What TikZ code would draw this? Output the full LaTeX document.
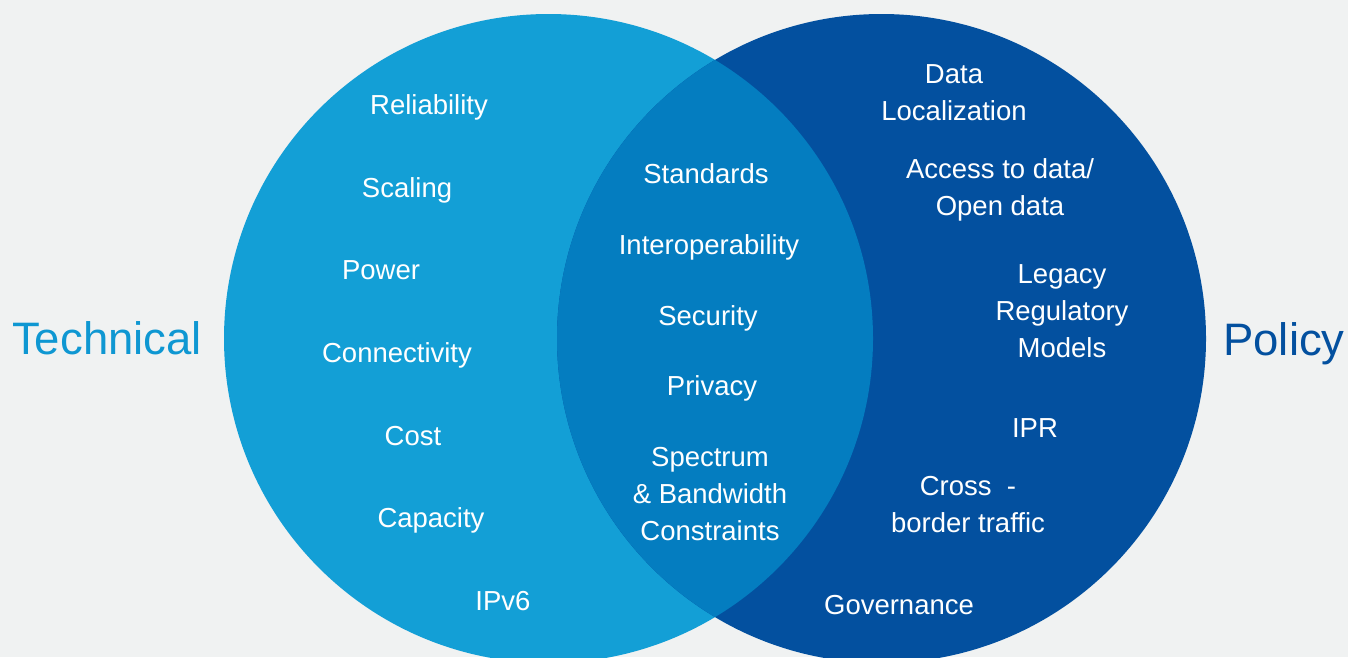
\documentclass[tikz,border=0pt]{standalone}
\usepackage{fontspec}
\setmainfont{Liberation Sans}
\definecolor{pagebg}{HTML}{F0F2F2}
\definecolor{techblue}{HTML}{139FD6}
\definecolor{midblue}{HTML}{047DC0}
\definecolor{polblue}{HTML}{03509F}
\definecolor{techtext}{HTML}{0E97D2}
\begin{document}
\begin{tikzpicture}[x=1pt,y=-1pt,
		lbl/.style={text=white,font=\fontsize{27.5}{37}\selectfont,anchor=base,align=center,inner sep=0pt},
		side/.style={font=\fontsize{45.5}{50}\selectfont,anchor=base,inner sep=0pt}]
			\fill[pagebg] (0,0) rectangle (1348,657);
			\clip (0,0) rectangle (1348,657);
			% the two sets and their overlap
			\fill[techblue] (548.5,338.5) circle [radius=324.5pt];
			\fill[polblue] (881.5,338.5) circle [radius=324.5pt];
			\begin{scope}
				\clip (548.5,338.5) circle [radius=324.5pt];
				\fill[midblue] (881.5,338.5) circle [radius=324.5pt];
			\end{scope}
			\node[side,text=techtext] (tech) at (107,354) {Technical};
			\node[side,text=polblue] (pol) at (1284,355) {Policy};
			% technical
			\node[lbl] (rel) at (429,114) {Reliability};
			\node[lbl] (scal) at (407,197) {Scaling};
			\node[lbl] (pow) at (381,279) {Power};
			\node[lbl] (conn) at (397,362) {Connectivity};
			\node[lbl] (cost) at (413,445) {Cost};
			\node[lbl] (cap) at (431,527) {Capacity};
			\node[lbl] (ipv) at (503,610) {IPv6};
			% both (base = last line)
			\node[lbl] (std) at (706,183) {Standards};
			\node[lbl] (inter) at (709,254) {Interoperability};
			\node[lbl] (sec) at (708,325) {Security};
			\node[lbl] (priv) at (712,395) {Privacy};
			\node[lbl] (spec) at (710,540) {Spectrum\\\& Bandwidth\\Constraints};
			% policy
			\node[lbl] (data) at (954,120) {Data\\Localization};
			\node[lbl] (access) at (1000,215) {Access to data/\\Open data};
			\node[lbl] (legacy) at (1062,357) {Legacy\\Regulatory\\Models};
			\node[lbl] (ipr) at (1035,437) {IPR};
			\node[lbl] (cross) at (968,532) {Cross \ -\\border traffic};
			\node[lbl] (gov) at (899,614) {Governance};
		\end{tikzpicture}
\end{document}
